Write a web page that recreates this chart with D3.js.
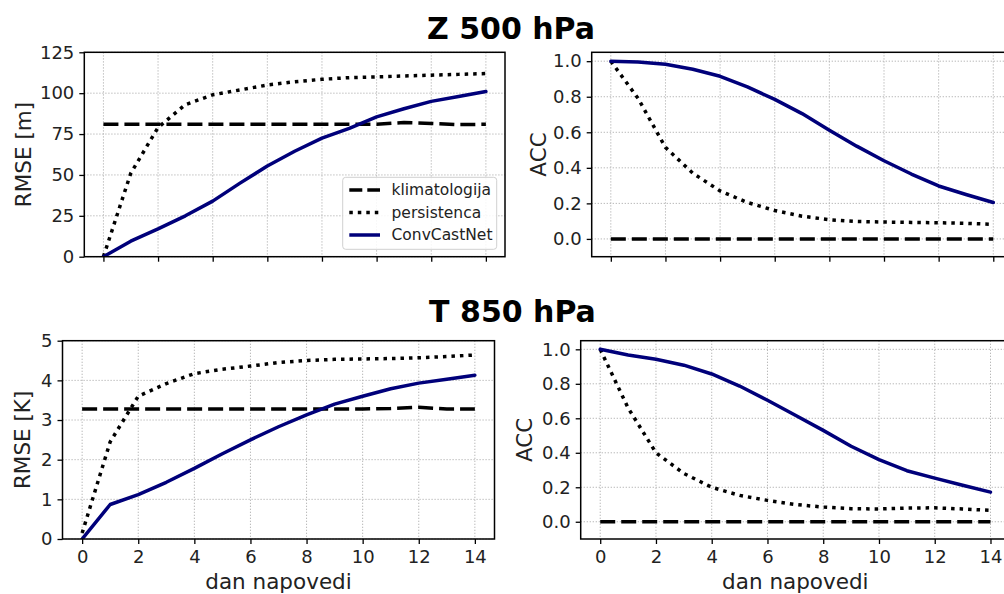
<!DOCTYPE html>
<html>
<head>
<meta charset="utf-8">
<script src="https://cdn.jsdelivr.net/npm/d3@7"></script>
<style>
  body { margin: 0; background: #fff; }
  svg { display: block; font-family: "DejaVu Sans", sans-serif; }
</style>
</head>
<body>
<svg id="chart" width="1004" height="594"></svg>
<script>
// forecast days
var days = [0, 1, 2, 3, 4, 5, 6, 7, 8, 9, 10, 11, 12, 13, 14];
var dayTicks = [0, 2, 4, 6, 8, 10, 12, 14];

// Z 500 hPa
var z500RmseClim = [81, 81, 81, 81, 81, 81, 81, 81, 81, 81, 81, 82, 81.5, 80.8, 81];
var z500RmsePers = [0, 51, 79, 93, 99, 102, 105, 107, 108.5, 109.5, 110, 110.5, 111, 111.5, 112];
var z500RmseNet = [0, 9.5, 17, 25, 34, 45, 55.5, 64.5, 72.5, 78.5, 85.5, 90.5, 95, 98, 101];
var z500AccClim = [0, 0, 0, 0, 0, 0, 0, 0, 0, 0, 0, 0, 0, 0, 0];
var z500AccPers = [1, 0.79, 0.515, 0.37, 0.27, 0.205, 0.16, 0.128, 0.108, 0.098, 0.095, 0.093, 0.091, 0.088, 0.082];
var z500AccNet = [1, 0.996, 0.983, 0.955, 0.915, 0.855, 0.785, 0.705, 0.612, 0.522, 0.44, 0.365, 0.298, 0.25, 0.205];

// T 850 hPa
var t850RmseClim = [3.28, 3.28, 3.28, 3.28, 3.28, 3.28, 3.28, 3.28, 3.28, 3.28, 3.28, 3.29, 3.32, 3.28, 3.28];
var t850RmsePers = [0.15, 2.45, 3.6, 3.92, 4.17, 4.28, 4.36, 4.45, 4.5, 4.53, 4.54, 4.55, 4.57, 4.6, 4.64];
var t850RmseNet = [0, 0.87, 1.12, 1.43, 1.78, 2.15, 2.5, 2.83, 3.13, 3.4, 3.6, 3.79, 3.93, 4.03, 4.13];
var t850AccClim = [0, 0, 0, 0, 0, 0, 0, 0, 0, 0, 0, 0, 0, 0, 0];
var t850AccPers = [1, 0.66, 0.4, 0.28, 0.2, 0.153, 0.124, 0.1, 0.085, 0.076, 0.074, 0.079, 0.081, 0.074, 0.066];
var t850AccNet = [1, 0.967, 0.942, 0.908, 0.857, 0.787, 0.705, 0.618, 0.53, 0.438, 0.36, 0.296, 0.253, 0.212, 0.172];

var zRmseTicks = [0, 25, 50, 75, 100, 125];
var tRmseTicks = [0, 1, 2, 3, 4, 5];
var accTicks = [0, 0.2, 0.4, 0.6, 0.8, 1.0];

var seriesNames = ["klimatologija", "persistenca", "ConvCastNet"];
var titles = ["Z 500 hPa", "T 850 hPa"];
var xLabel = "dan napovedi";

var svg = d3.select("#chart");

// styles per series
var styles = [
  { color: "#000", width: 3.5, dash: "15,6", cap: "butt" },
  { color: "#000", width: 3.5, dash: "3.5,5", cap: "butt" },
  { color: "#00007a", width: 3.5, dash: null, cap: "round" }
];

var panels = [
  { left: 84.3, right: 505, top: 52.3, bottom: 256.7, yDomain: [0, 125], yTicks: zRmseTicks, fmt: d3.format("d"),
    label: "RMSE [m]", labelX: 23.5, series: [z500RmseClim, z500RmsePers, z500RmseNet], xLabels: false, legend: true },
  { left: 591.7, right: 1012.4, top: 52.3, bottom: 256.7, yDomain: [-0.1, 1.05], yTicks: accTicks, fmt: d3.format(".1f"),
    label: "ACC", labelX: 538.5, series: [z500AccClim, z500AccPers, z500AccNet], xLabels: false },
  { left: 62.5, right: 494.5, top: 340.7, bottom: 539, yDomain: [0, 5], yTicks: tRmseTicks, fmt: d3.format("d"),
    label: "RMSE [K]", labelX: 22.5, series: [t850RmseClim, t850RmsePers, t850RmseNet], xLabels: true },
  { left: 580.7, right: 1010, top: 340.7, bottom: 539, yDomain: [-0.1, 1.05], yTicks: accTicks, fmt: d3.format(".1f"),
    label: "ACC", labelX: 524.7, series: [t850AccClim, t850AccPers, t850AccNet], xLabels: true }
];

panels.forEach(function(p, pi) {
  var x = d3.scaleLinear().domain([-0.7, 14.7]).range([p.left, p.right]);
  var y = d3.scaleLinear().domain(p.yDomain).range([p.bottom, p.top]);
  var w = p.right - p.left, h = p.bottom - p.top;

  var clipId = "clip" + pi;
  svg.append("clipPath").attr("id", clipId)
    .append("rect").attr("x", p.left).attr("y", p.top).attr("width", w).attr("height", h);

  // grid
  var grid = svg.append("g").attr("class", "grid");
  grid.selectAll(".gx").data(dayTicks).enter().append("line")
    .attr("x1", function(d) { return x(d); }).attr("x2", function(d) { return x(d); })
    .attr("y1", p.top).attr("y2", p.bottom);
  grid.selectAll(".gy").data(p.yTicks).enter().append("line")
    .attr("x1", p.left).attr("x2", p.right)
    .attr("y1", function(d) { return y(d); }).attr("y2", function(d) { return y(d); });
  grid.selectAll("line")
    .attr("stroke", "#b0b0b0").attr("stroke-width", 1).attr("stroke-dasharray", "1.2,1.8");

  // lines
  var line = d3.line()
    .x(function(d, i) { return x(days[i]); })
    .y(function(d) { return y(d); });
  var lines = svg.append("g").attr("clip-path", "url(#" + clipId + ")");
  p.series.forEach(function(s, si) {
    var st = styles[si];
    lines.append("path")
      .attr("d", line(s))
      .attr("fill", "none")
      .attr("stroke", st.color)
      .attr("stroke-width", st.width)
      .attr("stroke-dasharray", st.dash)
      .attr("stroke-linecap", st.cap)
      .attr("stroke-linejoin", "round");
  });

  // frame
  svg.append("rect")
    .attr("x", p.left).attr("y", p.top).attr("width", w).attr("height", h)
    .attr("fill", "none").attr("stroke", "#000").attr("stroke-width", 1.5);

  // axes
  var xAxis = d3.axisBottom(x).tickValues(dayTicks).tickSize(5).tickPadding(6)
    .tickFormat(p.xLabels ? d3.format("d") : "");
  var gx = svg.append("g").attr("transform", "translate(0," + p.bottom + ")").call(xAxis);
  var yAxis = d3.axisLeft(y).tickValues(p.yTicks).tickSize(5).tickPadding(5).tickFormat(p.fmt);
  var gy = svg.append("g").attr("transform", "translate(" + p.left + ",0)").call(yAxis);
  [gx, gy].forEach(function(g) {
    g.select(".domain").remove();
    g.selectAll(".tick line").attr("stroke", "#000").attr("stroke-width", 1.3);
    g.selectAll(".tick text").attr("fill", "#222").attr("font-size", 18)
      .attr("font-family", "DejaVu Sans");
  });

  // y label
  svg.append("text")
    .attr("transform", "translate(" + p.labelX + "," + ((p.top + p.bottom) / 2) + ") rotate(-90)")
    .attr("text-anchor", "middle").attr("dominant-baseline", "central")
    .attr("font-size", 21.5).attr("fill", "#222")
    .text(p.label);

  if (p.xLabels) {
    svg.append("text")
      .attr("x", (p.left + p.right) / 2)
      .attr("y", 589)
      .attr("text-anchor", "middle").attr("font-size", 21.5).attr("fill", "#222")
      .text(xLabel);
  }

  if (p.legend) {
    var lg = svg.append("g");
    lg.append("rect").attr("x", 342.7).attr("y", 177.3).attr("width", 154).attr("height", 72)
      .attr("rx", 3).attr("fill", "#fff").attr("fill-opacity", 0.85)
      .attr("stroke", "#d0d0d0").attr("stroke-width", 1);
    seriesNames.forEach(function(name, si) {
      var st = styles[si];
      var yy = 190 + si * 22.5;
      lg.append("line").attr("x1", 349.3).attr("x2", 380).attr("y1", yy).attr("y2", yy)
        .attr("stroke", st.color).attr("stroke-width", st.width)
        .attr("stroke-dasharray", si === 0 ? "13,5" : st.dash).attr("stroke-linecap", "butt");
      lg.append("text").attr("x", 391.5).attr("y", yy).attr("dy", "0.35em")
        .attr("font-size", 15.5).attr("fill", "#222").text(name);
    });
  }
});

// titles
svg.append("text").attr("x", 511).attr("y", 38.5).attr("text-anchor", "middle")
  .attr("font-size", 30).attr("font-weight", "bold").attr("fill", "#000").text(titles[0]);
svg.append("text").attr("x", 512.5).attr("y", 321.7).attr("text-anchor", "middle")
  .attr("font-size", 30).attr("font-weight", "bold").attr("fill", "#000").text(titles[1]);
</script>
</body>
</html>
